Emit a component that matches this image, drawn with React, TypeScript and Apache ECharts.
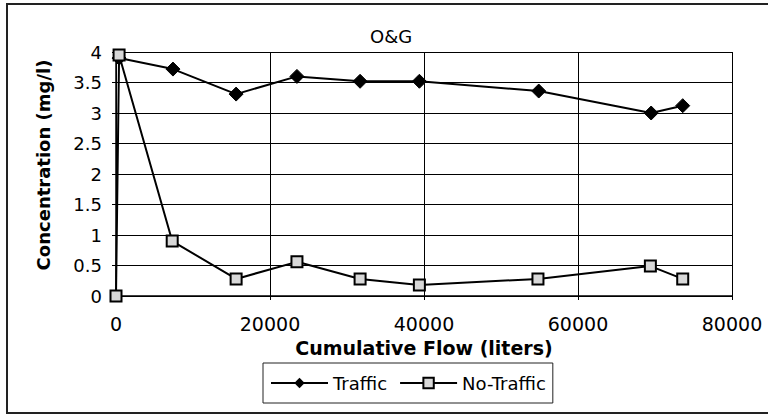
import React, { useEffect, useRef } from "react";
import * as echarts from "echarts";

const titleText = "O&G";
const xAxisName = "Cumulative Flow (liters)";
const yAxisName = "Concentration (mg/l)";

const trafficFlow = [400, 7400, 15600, 23500, 31700, 39400, 54900, 69500, 73600];
const trafficConc = [3.9, 3.72, 3.31, 3.6, 3.52, 3.52, 3.36, 3.0, 3.12];

const noTrafficFlow = [0, 400, 7300, 15600, 23500, 31700, 39400, 54800, 69400, 73600];
const noTrafficConc = [0, 3.95, 0.9, 0.28, 0.56, 0.28, 0.18, 0.28, 0.49, 0.28];

const xTickLabels = ["0", "20000", "40000", "60000", "80000"];
const yTickLabels = ["0", "0.5", "1", "1.5", "2", "2.5", "3", "3.5", "4"];

const FONT = "DejaVu Sans";

export default function App() {
  const ref = useRef<HTMLDivElement>(null);

  useEffect(() => {
    if (!ref.current) return;
    const chart = echarts.init(ref.current, null, { renderer: "svg" });
    const pair = (xs: number[], ys: number[]) => xs.map((x, i) => [x, ys[i]]);
    chart.setOption({
      animation: false,
      backgroundColor: "#ffffff",
      textStyle: { fontFamily: FONT, color: "#000" },
      title: {
        text: titleText,
        left: 370,
        top: 27,
        padding: 0,
        textStyle: { fontFamily: FONT, fontSize: 18, fontWeight: "normal", color: "#000" },
      },
      graphic: [
        {
          type: "rect",
          shape: { x: 7, y: 4, width: 775, height: 409 },
          style: { fill: "none", stroke: "#222", lineWidth: 2 },
          silent: true,
          z: 0,
        },
      ],
      legend: {
        left: 263,
        top: 363,
        orient: "horizontal",
        padding: [11, 7, 11, 7],
        itemGap: 12,
        itemWidth: 57,
        itemHeight: 13,
        borderColor: "#222",
        borderWidth: 1,
        textStyle: { fontFamily: FONT, fontSize: 18, color: "#000" },
        data: ["Traffic", "No-Traffic"],
      },
      grid: { left: 116, right: 36, top: 52, bottom: 119, containLabel: false },
      xAxis: {
        type: "value",
        min: 0,
        max: 80000,
        interval: 20000,
        name: xAxisName,
        nameLocation: "middle",
        nameGap: 42,
        nameTextStyle: { fontFamily: FONT, fontSize: 19, fontWeight: "bold", color: "#000" },
        axisLine: { show: true, onZero: false, lineStyle: { color: "#000", width: 1.5 } },
        axisTick: { show: true, inside: false, length: 4, lineStyle: { color: "#000" } },
        axisLabel: {
          margin: 18,
          fontFamily: FONT,
          fontSize: 19,
          color: "#000",
          formatter: (v: number) => xTickLabels[Math.round(v / 20000)] ?? String(v),
        },
        splitLine: { show: true, lineStyle: { color: "#000", width: 1 } },
      },
      yAxis: {
        type: "value",
        min: 0,
        max: 4,
        interval: 0.5,
        name: yAxisName,
        nameLocation: "middle",
        nameGap: 64,
        nameTextStyle: { fontFamily: FONT, fontSize: 18, fontWeight: "bold", color: "#000", padding: [0, 0, 0, 18] },
        axisLine: { show: true, lineStyle: { color: "#000", width: 1.5 } },
        axisTick: { show: true, inside: false, length: 4, lineStyle: { color: "#000" } },
        axisLabel: {
          margin: 14,
          fontFamily: FONT,
          fontSize: 18,
          color: "#000",
          formatter: (v: number) => yTickLabels[Math.round(v / 0.5)] ?? String(v),
        },
        splitLine: { show: true, lineStyle: { color: "#000", width: 1 } },
      },
      series: [
        {
          name: "Traffic",
          type: "line",
          data: pair(trafficFlow, trafficConc),
          symbol: "diamond",
          symbolSize: 14,
          lineStyle: { color: "#000", width: 2 },
          itemStyle: { color: "#000", borderColor: "#000" },
          z: 3,
        },
        {
          name: "No-Traffic",
          type: "line",
          data: pair(noTrafficFlow, noTrafficConc),
          symbol: "rect",
          symbolSize: 11,
          lineStyle: { color: "#000", width: 2 },
          itemStyle: { color: "#d8d8d8", borderColor: "#000", borderWidth: 2 },
          z: 4,
        },
      ],
    });
    return () => chart.dispose();
  }, []);

  return (
    <div
      ref={ref}
      style={{ position: "fixed", left: 0, top: 0, width: 768, height: 415, background: "#fff" }}
    />
  );
}
